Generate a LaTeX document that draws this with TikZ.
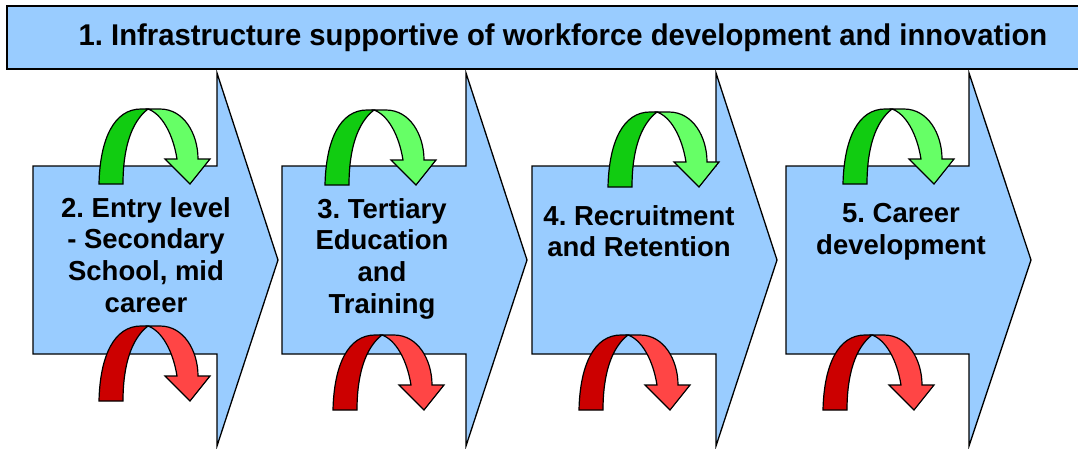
\documentclass[tikz,border=0pt]{standalone}
\usepackage{fontspec}
\setmainfont{Liberation Sans}
\usetikzlibrary{positioning}
\frenchspacing
\definecolor{stageblue}{HTML}{99CCFF}
\definecolor{upback}{HTML}{11CC11}
\definecolor{upfront}{HTML}{66FF66}
\definecolor{downback}{HTML}{CC0000}
\definecolor{downfront}{HTML}{FF4545}

\begin{document}
\begin{tikzpicture}[x=1pt, y=-1pt]
	\tikzset{stage/.style={draw=black, fill=stageblue, line width=1.3pt, line join=miter}}
	\tikzset{stagetext/.style={font=\fontsize{27.5}{31.7}\selectfont\bfseries, align=center, inner sep=0, anchor=north}}
	\tikzset{pics/uturn/.style 2 args={code={
		\draw[fill=#1, line width=1.2pt, line join=miter] (0,0) .. controls (1,-45) and (15,-75) .. (42,-75) -- (49,-75) .. controls (32,-62) and (24,-35) .. (24,0) -- cycle;
		\draw[fill=#2, line width=1.2pt, line join=miter] (49,-75) -- (61,-75) .. controls (85,-75) and (99,-50) .. (99,-25) -- (111,-25) -- (91,0) -- (66,-25) -- (78,-25) .. controls (74,-50) and (63,-70) .. (49,-75) -- cycle;
	}}}
	\useasboundingbox (0,0) rectangle (1078,448);
	\draw[stage, line width=2pt] (7,6) rectangle (1100,69);
	\node[font=\fontsize{30}{34}\selectfont\bfseries, inner sep=0, anchor=base, xscale=0.975] (infra) at (563,45) {1. Infrastructure supportive of workforce development and innovation};
	\draw[stage] (33,166) -- (217,166) -- (217,73) -- (278,260) -- (217,446) -- (217,354) -- (33,354) -- cycle;
	\draw[stage] (282,166) -- (466,166) -- (466,73) -- (527,260) -- (466,446) -- (466,354) -- (282,354) -- cycle;
	\draw[stage] (532,166) -- (716,166) -- (716,73) -- (777,260) -- (716,446) -- (716,354) -- (532,354) -- cycle;
	\draw[stage] (786,166) -- (969,166) -- (969,73) -- (1031,260) -- (969,446) -- (969,354) -- (786,354) -- cycle;
	\node[stagetext] (entry) at (146,197) {2. Entry level\\- Secondary\\School, mid\\career};
	\node[stagetext] (tertiary) at (382,198) {3. Tertiary\\Education\\and\\Training};
	\node[stagetext] (recruit) at (639,205) {4. Recruitment\\and Retention};
	\node[stagetext] (career) at (901,203) {5. Career\\development};
	\pic at (99,184) {uturn={upback}{upfront}};
	\pic at (325,185) {uturn={upback}{upfront}};
	\pic at (608,187) {uturn={upback}{upfront}};
	\pic at (843,184) {uturn={upback}{upfront}};
	\pic at (99,401) {uturn={downback}{downfront}};
	\pic at (333,410) {uturn={downback}{downfront}};
	\pic at (579,410) {uturn={downback}{downfront}};
	\pic at (823,410) {uturn={downback}{downfront}};
\end{tikzpicture}
\end{document}
